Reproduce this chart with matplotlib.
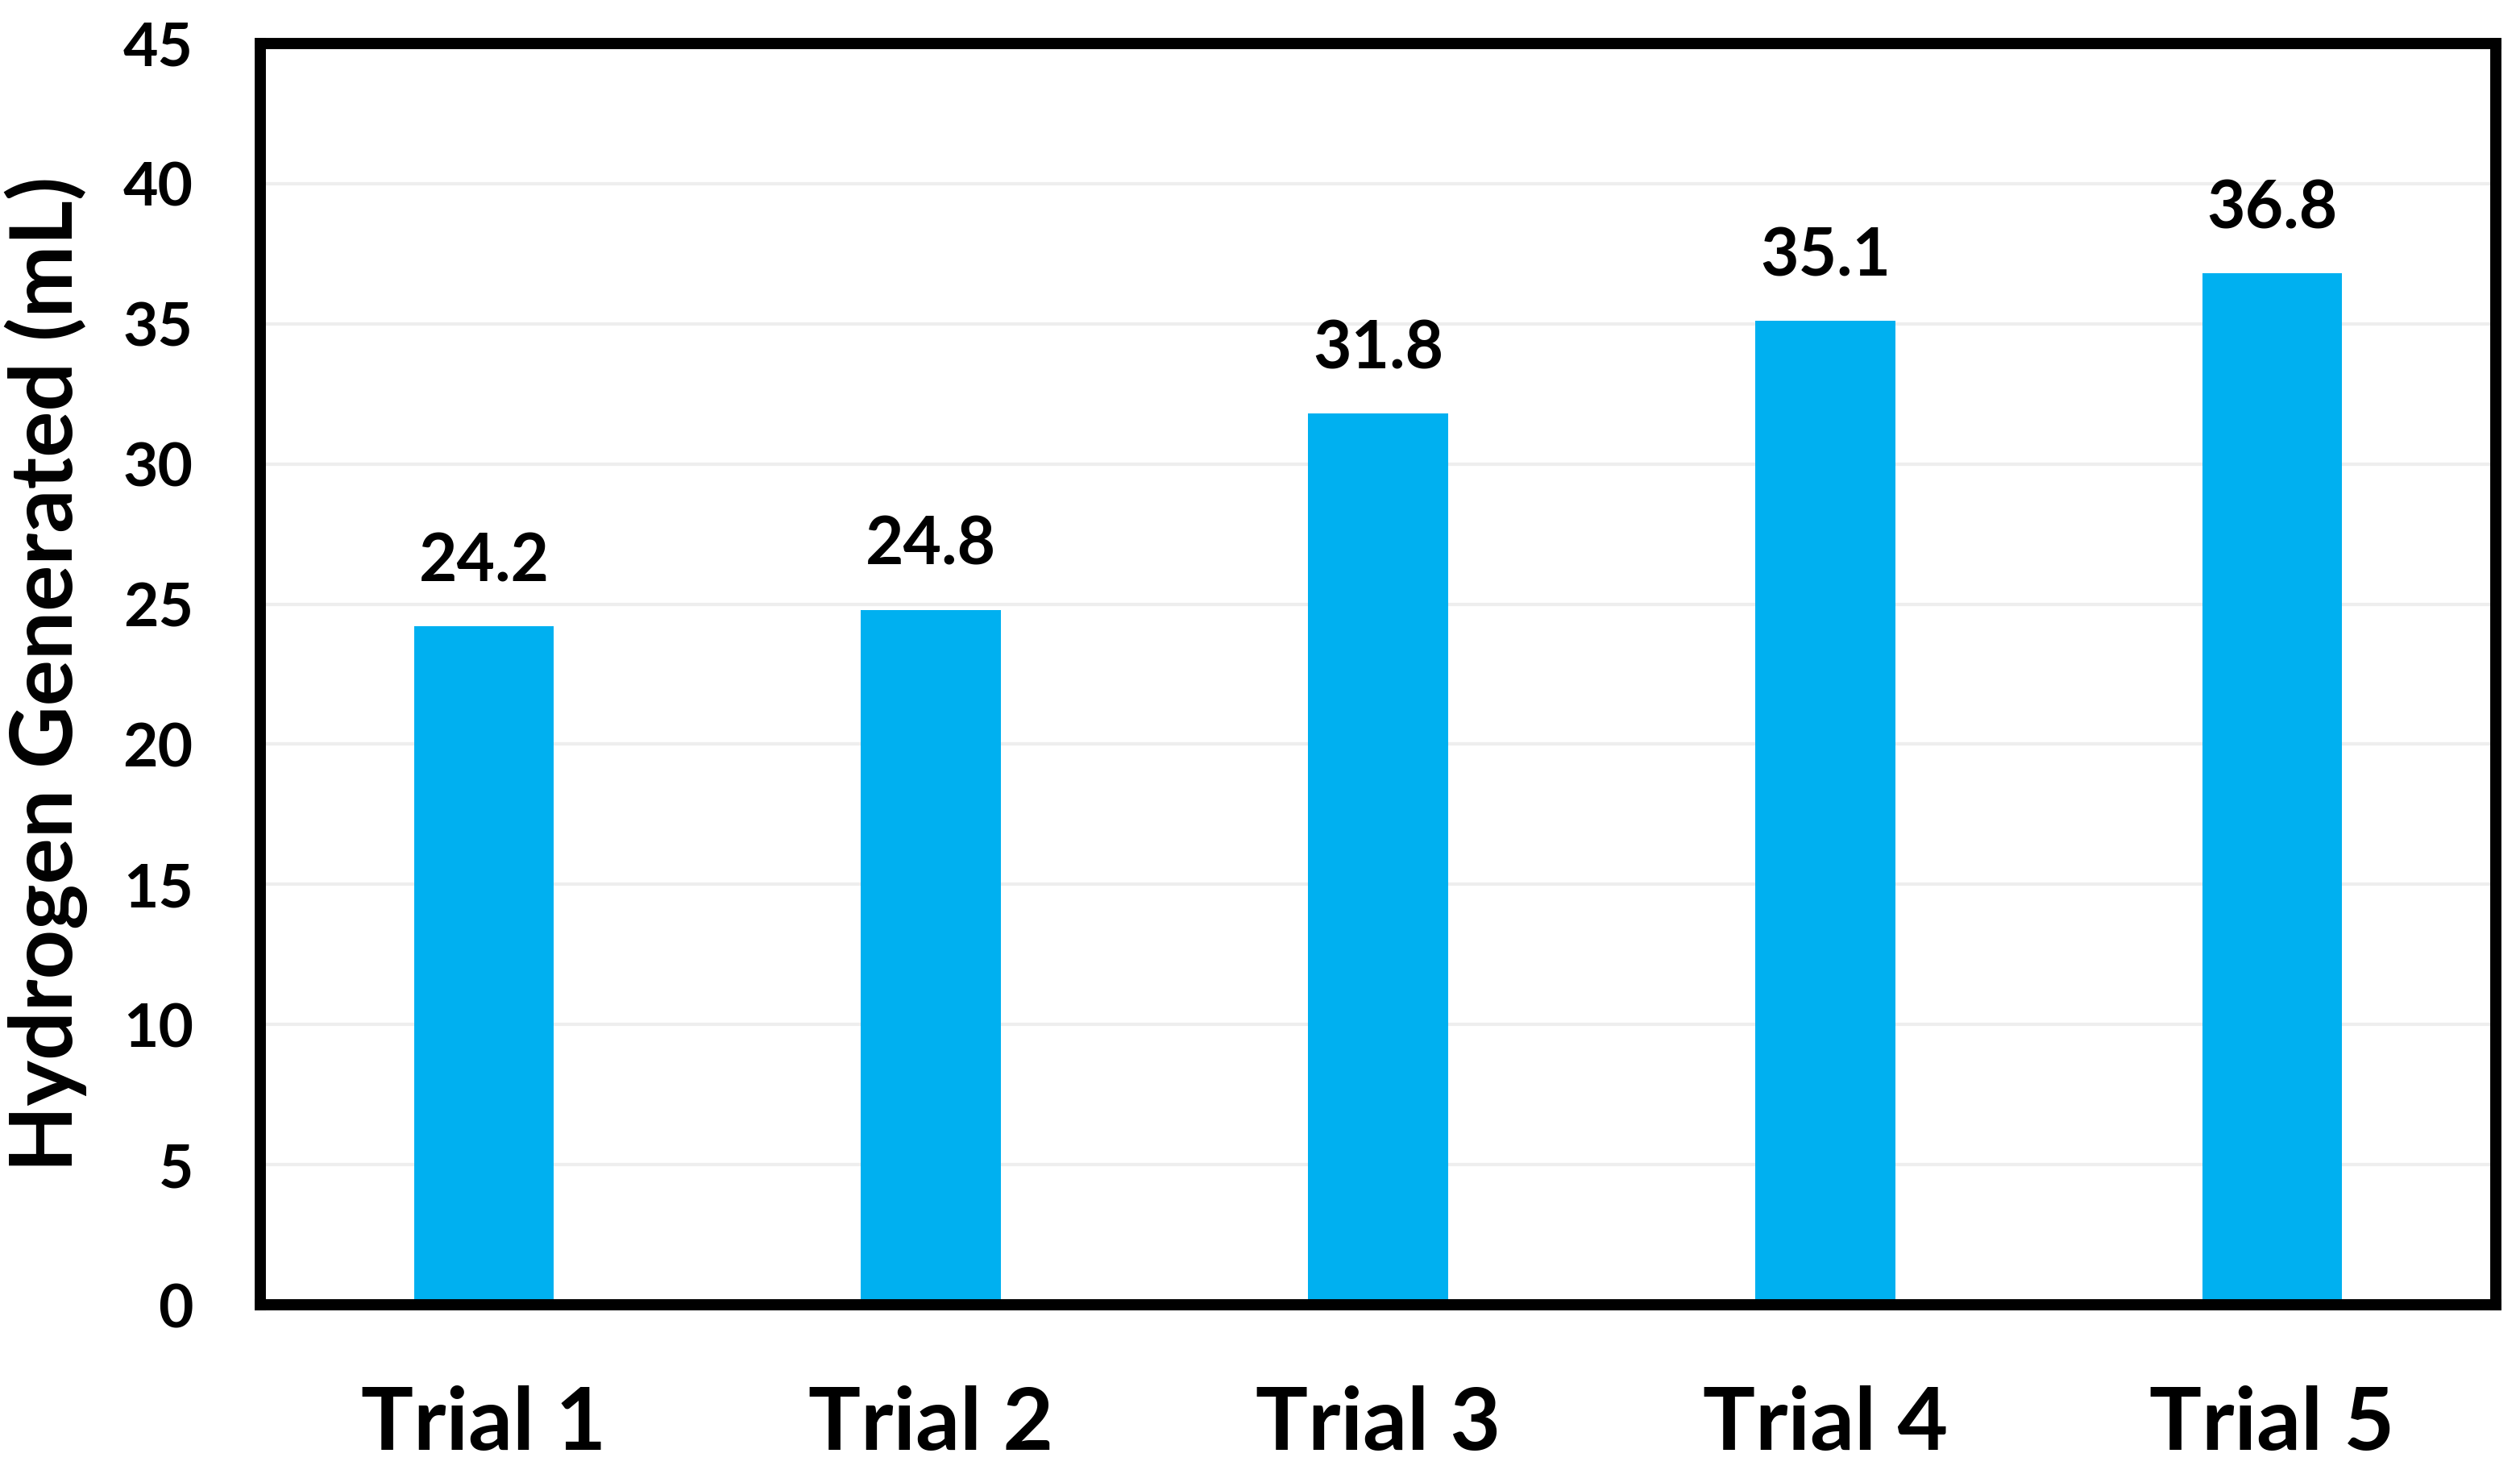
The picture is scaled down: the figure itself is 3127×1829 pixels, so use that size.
import matplotlib
matplotlib.use("Agg")
import matplotlib.pyplot as plt

categories = ["Trial 1", "Trial 2", "Trial 3", "Trial 4", "Trial 5"]
values = [24.2, 24.8, 31.8, 35.1, 36.8]
yticks = [0, 5, 10, 15, 20, 25, 30, 35, 40, 45]

plt.rcParams['font.family'] = ['Lato', 'DejaVu Sans']

W, H = 3127, 1829
fig = plt.figure(figsize=(W / 100, H / 100), dpi=100)
ax = fig.add_axes([323 / W, 1 - 1619 / H, (3097 - 323) / W, (1619 - 54) / H])

x = list(range(len(categories)))
ax.bar(x, values, width=0.313, color="#00B0F0", zorder=2)
ax.set_xlim(-0.5, len(categories) - 0.5)
ax.set_ylim(0, 45)
ax.set_yticks(yticks)
ax.yaxis.grid(True, color="#EEEEEE", linewidth=3.0, zorder=0)
ax.set_axisbelow(True)

ax.set_xticks(x)
ax.set_xticklabels(categories, fontsize=78, fontweight="bold")
ax.set_yticklabels([str(t) for t in yticks], fontsize=54, fontweight="bold")
ax.tick_params(axis="x", length=0, pad=72)
ax.tick_params(axis="y", length=0, pad=60)

for xi, v in zip(x, values):
    ax.annotate(f"{v:.1f}", (xi, v), xytext=(0, 30), textcoords="offset points",
                ha="center", va="bottom", fontsize=59, fontweight="bold")

for s in ax.spines.values():
    s.set_linewidth(10)
    s.set_color("black")
    s.set_capstyle("projecting")

ax.set_ylabel("Hydrogen Generated (mL)", fontsize=77, fontweight="bold")
ax.yaxis.set_label_coords(-0.077, 0.5)

fig.savefig("out.png", dpi=100, facecolor="white")
